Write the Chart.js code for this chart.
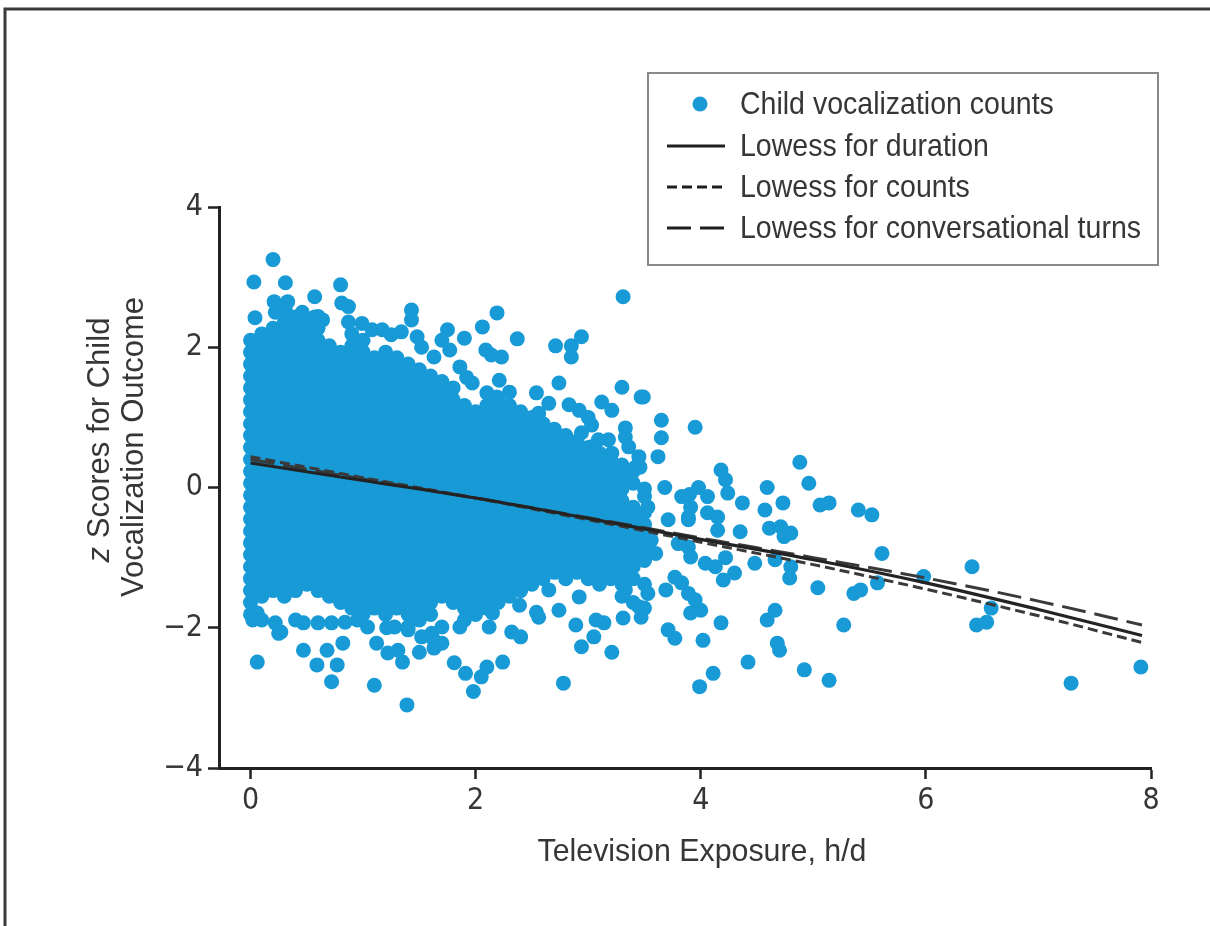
<!DOCTYPE html>
<html>
<head>
<meta charset="utf-8">
<script src="https://cdn.jsdelivr.net/npm/chart.js@4.4.1/dist/chart.umd.min.js"></script>
<style>
html,body{margin:0;padding:0;background:#fff;}
#wrap{width:1210px;height:926px;position:relative;}
</style>
</head>
<body>
<div id="wrap"><canvas id="c" width="1210" height="926"></canvas></div>
<script>
// ---------- data ----------
// Dense cloud: x position of each column of overlapping dots (h/d)
const coreColumnX = [0.0,0.1,0.2,0.3,0.4,0.5,0.6,0.7,0.8,0.9,1.0,1.1,1.2,1.3,1.4,1.5,1.6,1.7,1.8,1.9,2.0,2.1,2.2,2.3,2.4,2.5,2.6,2.7,2.8,2.9,3.0,3.1,3.2,3.3,3.4,3.5];
// z scores of the dots in each column
const coreColumnY = [
 [2.10,1.93,1.76,1.59,1.42,1.25,1.08,0.91,0.74,0.57,0.40,0.23,0.06,-0.11,-0.28,-0.45,-0.62,-0.79,-0.96,-1.13,-1.30,-1.47,-1.64,-1.81],
 [2.19,2.02,1.85,1.68,1.51,1.34,1.17,1.00,0.83,0.66,0.49,0.32,0.15,-0.02,-0.19,-0.36,-0.53,-0.70,-0.87,-1.04,-1.21,-1.38,-1.55],
 [2.27,2.10,1.93,1.76,1.59,1.42,1.25,1.08,0.91,0.74,0.57,0.40,0.23,0.06,-0.11,-0.28,-0.45,-0.62,-0.79,-0.96,-1.13,-1.30,-1.47],
 [2.36,2.19,2.02,1.85,1.68,1.51,1.34,1.17,1.00,0.83,0.66,0.49,0.32,0.15,-0.02,-0.19,-0.36,-0.53,-0.70,-0.87,-1.04,-1.21,-1.38,-1.55],
 [2.27,2.10,1.93,1.76,1.59,1.42,1.25,1.08,0.91,0.74,0.57,0.40,0.23,0.06,-0.11,-0.28,-0.45,-0.62,-0.79,-0.96,-1.13,-1.30,-1.47],
 [2.36,2.19,2.02,1.85,1.68,1.51,1.34,1.17,1.00,0.83,0.66,0.49,0.32,0.15,-0.02,-0.19,-0.36,-0.53,-0.70,-0.87,-1.04,-1.21,-1.38],
 [2.44,2.27,2.10,1.93,1.76,1.59,1.42,1.25,1.08,0.91,0.74,0.57,0.40,0.23,0.06,-0.11,-0.28,-0.45,-0.62,-0.79,-0.96,-1.13,-1.30,-1.47],
 [2.02,1.85,1.68,1.51,1.34,1.17,1.00,0.83,0.66,0.49,0.32,0.15,-0.02,-0.19,-0.36,-0.53,-0.70,-0.87,-1.04,-1.21,-1.38,-1.55],
 [1.93,1.76,1.59,1.42,1.25,1.08,0.91,0.74,0.57,0.40,0.23,0.06,-0.11,-0.28,-0.45,-0.62,-0.79,-0.96,-1.13,-1.30,-1.47,-1.64],
 [2.19,2.02,1.85,1.68,1.51,1.34,1.17,1.00,0.83,0.66,0.49,0.32,0.15,-0.02,-0.19,-0.36,-0.53,-0.70,-0.87,-1.04,-1.21,-1.38,-1.55,-1.72],
 [2.10,1.93,1.76,1.59,1.42,1.25,1.08,0.91,0.74,0.57,0.40,0.23,0.06,-0.11,-0.28,-0.45,-0.62,-0.79,-0.96,-1.13,-1.30,-1.47,-1.64,-1.81],
 [1.85,1.68,1.51,1.34,1.17,1.00,0.83,0.66,0.49,0.32,0.15,-0.02,-0.19,-0.36,-0.53,-0.70,-0.87,-1.04,-1.21,-1.38,-1.55,-1.72],
 [1.93,1.76,1.59,1.42,1.25,1.08,0.91,0.74,0.57,0.40,0.23,0.06,-0.11,-0.28,-0.45,-0.62,-0.79,-0.96,-1.13,-1.30,-1.47,-1.64,-1.81],
 [1.85,1.68,1.51,1.34,1.17,1.00,0.83,0.66,0.49,0.32,0.15,-0.02,-0.19,-0.36,-0.53,-0.70,-0.87,-1.04,-1.21,-1.38,-1.55,-1.72],
 [1.76,1.59,1.42,1.25,1.08,0.91,0.74,0.57,0.40,0.23,0.06,-0.11,-0.28,-0.45,-0.62,-0.79,-0.96,-1.13,-1.30,-1.47,-1.64,-1.81],
 [1.68,1.51,1.34,1.17,1.00,0.83,0.66,0.49,0.32,0.15,-0.02,-0.19,-0.36,-0.53,-0.70,-0.87,-1.04,-1.21,-1.38,-1.55,-1.72,-1.89],
 [1.59,1.42,1.25,1.08,0.91,0.74,0.57,0.40,0.23,0.06,-0.11,-0.28,-0.45,-0.62,-0.79,-0.96,-1.13,-1.30,-1.47,-1.64,-1.81],
 [1.51,1.34,1.17,1.00,0.83,0.66,0.49,0.32,0.15,-0.02,-0.19,-0.36,-0.53,-0.70,-0.87,-1.04,-1.21,-1.38,-1.55],
 [1.42,1.25,1.08,0.91,0.74,0.57,0.40,0.23,0.06,-0.11,-0.28,-0.45,-0.62,-0.79,-0.96,-1.13,-1.30,-1.47,-1.64],
 [1.17,1.00,0.83,0.66,0.49,0.32,0.15,-0.02,-0.19,-0.36,-0.53,-0.70,-0.87,-1.04,-1.21,-1.38,-1.55,-1.72],
 [1.08,0.91,0.74,0.57,0.40,0.23,0.06,-0.11,-0.28,-0.45,-0.62,-0.79,-0.96,-1.13,-1.30,-1.47,-1.64,-1.81],
 [1.17,1.00,0.83,0.66,0.49,0.32,0.15,-0.02,-0.19,-0.36,-0.53,-0.70,-0.87,-1.04,-1.21,-1.38,-1.55,-1.72],
 [1.25,1.08,0.91,0.74,0.57,0.40,0.23,0.06,-0.11,-0.28,-0.45,-0.62,-0.79,-0.96,-1.13,-1.30,-1.47,-1.64],
 [1.17,1.00,0.83,0.66,0.49,0.32,0.15,-0.02,-0.19,-0.36,-0.53,-0.70,-0.87,-1.04,-1.21,-1.38,-1.55],
 [1.08,0.91,0.74,0.57,0.40,0.23,0.06,-0.11,-0.28,-0.45,-0.62,-0.79,-0.96,-1.13,-1.30,-1.47],
 [1.00,0.83,0.66,0.49,0.32,0.15,-0.02,-0.19,-0.36,-0.53,-0.70,-0.87,-1.04,-1.21,-1.38],
 [0.91,0.74,0.57,0.40,0.23,0.06,-0.11,-0.28,-0.45,-0.62,-0.79,-0.96,-1.13,-1.30],
 [0.83,0.66,0.49,0.32,0.15,-0.02,-0.19,-0.36,-0.53,-0.70,-0.87,-1.04,-1.21],
 [0.74,0.57,0.40,0.23,0.06,-0.11,-0.28,-0.45,-0.62,-0.79,-0.96,-1.13,-1.30],
 [0.66,0.49,0.32,0.15,-0.02,-0.19,-0.36,-0.53,-0.70,-0.87,-1.04,-1.21],
 [0.57,0.40,0.23,0.06,-0.11,-0.28,-0.45,-0.62,-0.79,-0.96,-1.13,-1.30],
 [0.49,0.32,0.15,-0.02,-0.19,-0.36,-0.53,-0.70,-0.87,-1.04,-1.21,-1.38],
 [0.40,0.23,0.06,-0.11,-0.28,-0.45,-0.62,-0.79,-0.96,-1.13,-1.30],
 [0.32,0.15,-0.02,-0.19,-0.36,-0.53,-0.70,-0.87,-1.04,-1.21,-1.38,-1.55],
 [0.23,0.06,-0.28,-0.45,-0.62,-0.79,-0.96,-1.13,-1.30,-1.64],
 [-0.02,-0.36,-0.53,-0.70,-0.87,-1.04,-1.38,-1.72]
];
// Scattered dots above the cloud [x, z]
const upperFringe = [
 [0.20,3.25],[0.03,2.93],[0.31,2.92],[0.80,2.89],[0.21,2.65],[0.33,2.65],[0.57,2.72],[0.81,2.63],[0.87,2.58],[0.04,2.42],[1.43,2.53],[1.43,2.39],
 [0.87,2.36],[0.99,2.34],[1.08,2.25],[1.17,2.25],[1.25,2.18],[1.34,2.22],[0.57,2.43],[0.64,2.39],[0.40,2.43],[0.46,2.50],[0.22,2.50],[0.31,2.53],
 [1.48,2.15],[1.52,2.00],[1.63,1.86],
 [3.31,2.72],[2.19,2.49],[2.06,2.29],[1.75,2.25],[1.90,2.13],[2.37,2.12],[2.71,2.02],[2.85,2.02],[2.94,2.15],[2.85,1.86],[2.09,1.96],[2.14,1.89],[2.23,1.86],
 [1.86,1.72],[1.92,1.57],[1.97,1.49],[2.21,1.53],[2.74,1.49],[3.30,1.43],[3.47,1.29],[3.12,1.22],[3.21,1.10],[2.83,1.18],[2.92,1.10],[3.00,1.00],[3.03,0.89],
 [3.33,0.85],[3.33,0.72],[3.42,0.29],[3.18,0.68],[2.94,0.78],[1.70,2.10],[1.77,1.96],[2.10,1.35],[2.19,1.29],[2.30,1.36],[2.54,1.35],[2.65,1.20],[2.56,1.06],
 [3.45,0.44],[3.36,0.58],[3.21,0.49],[3.03,0.58],[3.09,0.68]
];
// Scattered dots below the cloud [x, z]
const lowerFringe = [
 [0.06,-2.49],[0.47,-2.32],[0.68,-2.32],[0.82,-2.22],[0.59,-2.53],[0.77,-2.53],[0.72,-2.77],[1.12,-2.22],[1.10,-2.82],[1.22,-2.36],[1.35,-2.49],[1.39,-3.10],[1.50,-2.35],[1.63,-2.29],
 [0.06,-1.79],[0.22,-1.93],[0.27,-2.06],[0.47,-1.93],[0.72,-1.93],[0.84,-1.92],[1.04,-1.99],[1.21,-2.00],[1.40,-1.99],[1.61,-2.08],
 [0.02,-1.89],[0.10,-1.89],[0.25,-2.08],[0.40,-1.89],[0.60,-1.93],[0.95,-1.89],[1.28,-1.99],[1.52,-2.13],[1.63,-2.18],[1.40,-2.03],[1.31,-2.32],
 [1.81,-2.50],[1.91,-2.65],[1.98,-2.91],[2.10,-2.56],[2.05,-2.70],[2.24,-2.49],[2.78,-2.79],[3.21,-2.35],[2.94,-2.27],[3.05,-2.13],[3.14,-1.93],[2.89,-1.96],
 [2.32,-2.06],[2.40,-2.13],[3.31,-1.86],[3.47,-1.85],[1.86,-1.99],[2.39,-1.68],[2.54,-1.78],[2.65,-1.46],[2.74,-1.75],[2.56,-1.85],[3.07,-1.89],[3.33,-1.46],
 [3.45,-1.70],[2.92,-1.56],[1.70,-1.99],[1.70,-2.22],[1.74,-1.50],[1.90,-1.89],[2.12,-1.99],[2.15,-1.79]
];
// Sparse dots at high exposure [x, z]
const highExposure = [
 [3.49,1.29],[3.65,0.96],[3.95,0.86],[3.65,0.71],[3.62,0.44],[3.46,0.29],[4.88,0.36],[4.96,0.06],[4.18,0.25],[4.22,0.11],[4.24,-0.08],[3.68,0.00],[3.90,-0.10],
 [3.98,0.00],[4.06,-0.13],[4.59,0.00],[4.37,-0.22],[4.57,-0.32],[4.73,-0.22],[5.06,-0.25],[5.14,-0.22],[5.40,-0.32],[5.52,-0.39],[3.50,-0.13],[3.53,-0.28],
 [3.71,-0.46],[3.89,-0.46],[4.06,-0.36],[4.15,-0.42],[4.15,-0.61],[4.35,-0.63],[4.61,-0.58],[4.71,-0.56],[4.80,-0.65],[4.74,-0.70],[3.56,-0.75],[3.60,-0.94],
 [3.80,-0.80],[3.89,-0.85],[3.91,-0.99],[4.04,-1.08],[4.13,-1.13],[4.22,-1.00],[4.30,-1.22],[4.20,-1.32],[4.48,-1.08],[4.66,-1.03],[4.80,-1.13],[4.79,-1.29],
 [5.04,-1.43],[5.61,-0.94],[5.57,-1.36],[5.36,-1.51],[5.42,-1.46],[5.27,-1.96],[3.53,-1.51],[3.69,-1.46],[3.77,-1.28],[3.83,-1.36],[3.89,-1.51],[3.95,-1.60],
 [3.91,-1.79],[4.00,-1.75],[3.71,-2.03],[3.77,-2.15],[4.02,-2.18],[4.18,-1.93],[4.66,-1.75],[4.59,-1.89],[4.68,-2.22],[4.70,-2.32],[4.42,-2.49],[4.11,-2.65],
 [3.99,-2.84],[4.92,-2.60],[5.14,-2.75],[3.83,-0.13],[3.89,-0.42],[3.91,-0.28],
 [5.98,-1.27],[6.41,-1.13],[6.58,-1.72],[6.45,-1.96],[6.54,-1.92],[7.29,-2.79],[7.91,-2.56]
];
// Lowess curves
const lowessX = [0,1,2,3,4,5,6,7,7.92];
const lowessDuration = [0.35,0.10,-0.15,-0.44,-0.74,-1.03,-1.36,-1.74,-2.11];
const lowessCounts = [0.44,0.14,-0.15,-0.46,-0.78,-1.10,-1.45,-1.83,-2.21];
const lowessTurns = [0.40,0.12,-0.15,-0.43,-0.72,-1.00,-1.29,-1.62,-1.96];
// Axis ticks and texts
const xTicks = [0,2,4,6,8];
const yTicks = [-4,-2,0,2,4];
const seriesLabels = ['Child vocalization counts','Lowess for duration','Lowess for counts','Lowess for conversational turns'];
const xTitle = 'Television Exposure, h/d';
const yTitleLine1 = ['z',' Scores for Child'];
const yTitleLine2 = 'Vocalization Outcome';

// ---------- build ----------
const TICKFONT = "'DejaVu Sans Condensed','Liberation Sans Narrow',sans-serif";
const TEXTFONT = "'Liberation Sans','Arial',sans-serif";
const BLUE = '#189ad6';
const TXT = '#363636';

const dots = [];
coreColumnX.forEach((x,i)=>coreColumnY[i].forEach(y=>dots.push({x:x,y:y})));
[upperFringe,lowerFringe,highExposure].forEach(arr=>arr.forEach(p=>dots.push({x:p[0],y:p[1]})));
const toXY = ys => lowessX.map((x,i)=>({x:x,y:ys[i]}));

// horizontal squeeze so that text of a given size spans the width seen in the picture
function squeeze(ctx, text, size, target, style){
  ctx.font = (style||'normal') + ' ' + size + 'px ' + TEXTFONT;
  return target / ctx.measureText(text).width;
}

const decor = {
  id:'decor',
  afterDraw(chart){
    const c = chart.ctx;
    c.save();
    // outer frame
    c.strokeStyle = '#3a3a3a'; c.lineWidth = 3;
    c.beginPath(); c.moveTo(5,926); c.lineTo(5,9); c.lineTo(1212,9); c.stroke();

    // legend box
    c.fillStyle = '#fff';
    c.fillRect(648,73,510,192);
    c.strokeStyle = '#8a8a8a'; c.lineWidth = 2;
    c.strokeRect(648,73,510,192);
    const LS = 32;
    const k = squeeze(c, seriesLabels[3], LS, 401, 'normal');
    const rows = [104,146,187,228];
    c.fillStyle = TXT; c.textBaseline = 'middle'; c.textAlign = 'left';
    c.font = 'normal ' + LS + 'px ' + TEXTFONT;
    seriesLabels.forEach((t,i)=>{
      c.save(); c.translate(740, rows[i]+1); c.scale(k,1); c.fillText(t, 0, 0); c.restore();
    });
    c.fillStyle = BLUE;
    c.beginPath(); c.arc(700, rows[0], 7.5, 0, Math.PI*2); c.fill();
    c.lineWidth = 3.2; c.strokeStyle = '#1e1e1e';
    c.setLineDash([]); c.beginPath(); c.moveTo(667,rows[1]); c.lineTo(725,rows[1]); c.stroke();
    c.setLineDash([10,5]); c.beginPath(); c.moveTo(667,rows[2]); c.lineTo(725,rows[2]); c.stroke();
    c.setLineDash([24,9]); c.beginPath(); c.moveTo(667,rows[3]); c.lineTo(725,rows[3]); c.stroke();
    c.setLineDash([]);

    // x title
    const TS = 32;
    const kx = squeeze(c, xTitle, TS, 329, 'normal');
    c.fillStyle = TXT; c.textAlign = 'center'; c.textBaseline = 'middle';
    c.font = 'normal ' + TS + 'px ' + TEXTFONT;
    c.save(); c.translate(702, 852); c.scale(kx,1); c.fillText(xTitle, 0, 0); c.restore();

    // y title (two lines, rotated)
    const ky = squeeze(c, yTitleLine2, TS, 300, 'normal');
    c.save();
    c.translate(134, 447);
    c.rotate(-Math.PI/2);
    c.scale(ky,1);
    c.font = 'normal ' + TS + 'px ' + TEXTFONT;
    c.textAlign = 'center'; c.textBaseline = 'middle';
    c.fillText(yTitleLine2, 0, 0);
    c.restore();
    c.save();
    c.translate(100, 440);
    c.rotate(-Math.PI/2);
    c.scale(ky,1);
    c.textBaseline = 'middle'; c.textAlign = 'left';
    c.font = 'italic ' + TS + 'px ' + TEXTFONT;
    const w1 = c.measureText(yTitleLine1[0]).width;
    c.font = 'normal ' + TS + 'px ' + TEXTFONT;
    const w2 = c.measureText(yTitleLine1[1]).width;
    const start = -(w1+w2)/2;
    c.font = 'italic ' + TS + 'px ' + TEXTFONT;
    c.fillText(yTitleLine1[0], start, 0);
    c.font = 'normal ' + TS + 'px ' + TEXTFONT;
    c.fillText(yTitleLine1[1], start + w1, 0);
    c.restore();
    c.restore();
  }
};

const minus = v => (v < 0 ? '\u2212' + Math.abs(v) : String(v));

new Chart(document.getElementById('c').getContext('2d'), {
  type:'scatter',
  data:{datasets:[
    {label:seriesLabels[1], data:toXY(lowessDuration), showLine:true, borderColor:'#232323', borderWidth:3.2, pointRadius:0, cubicInterpolationMode:'monotone', order:0},
    {label:seriesLabels[2], data:toXY(lowessCounts), showLine:true, borderColor:'#3a3a3a', borderWidth:3, borderDash:[10,5], pointRadius:0, cubicInterpolationMode:'monotone', order:1},
    {label:seriesLabels[3], data:toXY(lowessTurns), showLine:true, borderColor:'#3a3a3a', borderWidth:3, borderDash:[24,9], pointRadius:0, cubicInterpolationMode:'monotone', order:2},
    {label:seriesLabels[0], data:dots, backgroundColor:BLUE, borderWidth:0, pointRadius:7.5, pointHoverRadius:7.5, order:10}
  ]},
  options:{
    responsive:false, animation:false, devicePixelRatio:1,
    layout:{padding:{left:0, top:207, right:59, bottom:0}},
    plugins:{legend:{display:false}, tooltip:{enabled:false}},
    scales:{
      x:{type:'linear', min:-0.28, max:8,
         afterBuildTicks(s){ s.ticks = xTicks.map(v=>({value:v})); },
         ticks:{font:{family:TICKFONT, size:30}, color:TXT, padding:4, callback:minus},
         grid:{display:true, drawOnChartArea:false, drawTicks:true, tickLength:11, tickWidth:2.5, tickColor:'#222'},
         border:{display:true, color:'#222', width:3},
         afterFit(s){ s.height = 926-768; }},
      y:{type:'linear', min:-4, max:4,
         afterBuildTicks(s){ s.ticks = yTicks.map(v=>({value:v})); },
         ticks:{font:{family:TICKFONT, size:30}, color:TXT, padding:5, callback:minus},
         grid:{display:true, drawOnChartArea:false, drawTicks:true, tickLength:11, tickWidth:2.5, tickColor:'#222'},
         border:{display:true, color:'#222', width:3},
         afterFit(s){ s.width = 219; }}
    }
  },
  plugins:[decor]
});
</script>
</body>
</html>
